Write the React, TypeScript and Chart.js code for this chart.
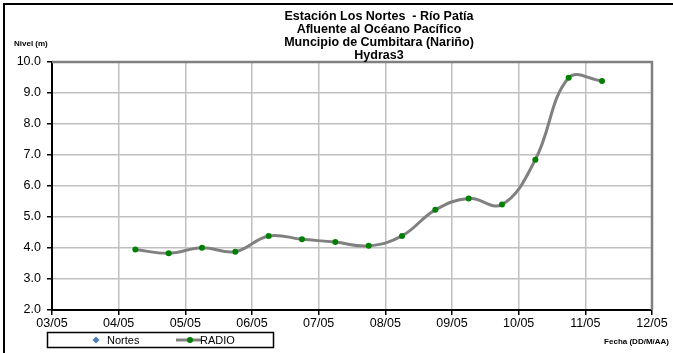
import { useEffect, useRef } from "react";
import { Chart, registerables } from "chart.js";

Chart.register(...registerables);

const titleLines = [
  "Estación Los Nortes  - Río Patía",
  "Afluente al Océano Pacífico",
  "Muncipio de Cumbitara (Nariño)",
  "Hydras3",
];
const yAxisTitle = "Nivel (m)";
const xAxisTitle = "Fecha (DD/M/AA)";
const seriesNames = ["Nortes", "RADIO"];
const xTickLabels = ["03/05", "04/05", "05/05", "06/05", "07/05", "08/05", "09/05", "10/05", "11/05", "12/05"];
const pointTimes = [
  "04/05 06:00", "04/05 18:00", "05/05 06:00", "05/05 18:00", "06/05 06:00",
  "06/05 18:00", "07/05 06:00", "07/05 18:00", "08/05 06:00", "08/05 18:00",
  "09/05 06:00", "09/05 18:00", "10/05 06:00", "10/05 18:00", "11/05 06:00",
];
const radioValues = [3.95, 3.83, 4.01, 3.88, 4.39, 4.28, 4.19, 4.07, 4.39, 5.23, 5.6, 5.4, 6.85, 9.49, 9.39];
const yMin = 2;
const yMax = 10;
const yStep = 1;

const FONT = "'Liberation Sans', Arial, sans-serif";

function toDays(s: string): number {
  const [d, t] = s.split(" ");
  const [dd] = d.split("/").map(Number);
  const [h, mi] = t.split(":").map(Number);
  return dd - 3 + (h + mi / 60) / 24;
}

const decorPlugin = {
  id: "decor",
  beforeDatasetsDraw(chart: any) {
    const { ctx, chartArea } = chart;
    ctx.save();
    ctx.strokeStyle = "#808080";
    ctx.lineWidth = 2.5;
    ctx.beginPath();
    ctx.moveTo(chartArea.left, chartArea.top);
    ctx.lineTo(chartArea.right, chartArea.top);
    ctx.lineTo(chartArea.right, chartArea.bottom);
    ctx.stroke();
    ctx.restore();
  },
  afterDraw(chart: any) {
    const { ctx } = chart;
    ctx.save();
    // outer frame (left and top)
    ctx.fillStyle = "#000";
    ctx.fillRect(3, 3, 670, 2);
    ctx.fillRect(3, 3, 2, 350);

    // title
    ctx.fillStyle = "#000";
    ctx.font = `bold 12.5px ${FONT}`;
    ctx.textAlign = "center";
    ctx.textBaseline = "middle";
    titleLines.forEach((line, i) => {
      ctx.fillText(line, 379, 17 + i * 13);
    });

    // axis titles
    ctx.font = `bold 8px ${FONT}`;
    ctx.textAlign = "left";
    ctx.fillText(yAxisTitle, 14, 44);
    ctx.textAlign = "right";
    ctx.fillText(xAxisTitle, 669, 342);

    // legend
    ctx.lineWidth = 1.5;
    ctx.strokeStyle = "#000";
    ctx.strokeRect(47.5, 332.5, 226, 15);
    ctx.fillStyle = "#4a7ebb";
    ctx.beginPath();
    ctx.moveTo(96, 336.5);
    ctx.lineTo(99.5, 340);
    ctx.lineTo(96, 343.5);
    ctx.lineTo(92.5, 340);
    ctx.closePath();
    ctx.fill();
    ctx.fillStyle = "#000";
    ctx.font = `11px ${FONT}`;
    ctx.textAlign = "left";
    ctx.textBaseline = "middle";
    ctx.fillText(seriesNames[0], 107, 340.5);
    ctx.strokeStyle = "#808080";
    ctx.lineWidth = 3;
    ctx.beginPath();
    ctx.moveTo(176, 340);
    ctx.lineTo(201, 340);
    ctx.stroke();
    ctx.fillStyle = "#008000";
    ctx.beginPath();
    ctx.arc(190, 340, 3, 0, Math.PI * 2);
    ctx.fill();
    ctx.fillStyle = "#000";
    ctx.fillText(seriesNames[1], 200, 340.5);
    ctx.restore();
  },
};

export default function App() {
  const ref = useRef<HTMLCanvasElement | null>(null);

  useEffect(() => {
    if (!ref.current) return;
    const data = pointTimes.map((t, i) => ({ x: toDays(t), y: radioValues[i] }));
    const chart = new Chart(ref.current, {
      type: "line",
      data: {
        datasets: [
          {
            label: seriesNames[1],
            data,
            borderColor: "#808080",
            borderWidth: 3,
            tension: 0.4,
            pointRadius: 3,
            pointBackgroundColor: "#008000",
            pointBorderColor: "#008000",
            pointBorderWidth: 0,
            fill: false,
          },
        ],
      },
      options: {
        animation: false,
        responsive: false,
        devicePixelRatio: 1,
        layout: { padding: { top: 62, right: 21, bottom: 0, left: 0 } },
        plugins: {
          legend: { display: false },
          title: { display: false },
          tooltip: { enabled: false },
        },
        scales: {
          x: {
            type: "linear",
            min: 0,
            max: xTickLabels.length - 1,
            afterFit(scale: any) {
              scale.height = 43;
            },
            ticks: {
              stepSize: 1,
              autoSkip: false,
              maxRotation: 0,
              padding: 1,
              color: "#000",
              font: { family: FONT, size: 12.5 },
              callback: (v: any) => xTickLabels[Math.round(Number(v))] ?? "",
            },
            grid: {
              color: "#c0c0c0",
              lineWidth: 1.5,
              tickLength: 5,
              tickColor: "#000",
              tickWidth: 1.5,
            },
            border: { display: true, color: "#000", width: 2 },
          },
          y: {
            min: yMin,
            max: yMax,
            afterFit(scale: any) {
              scale.width = 52;
            },
            ticks: {
              stepSize: yStep,
              padding: 6,
              color: "#000",
              font: { family: FONT, size: 12.5 },
              callback: (v: any) => Number(v).toFixed(1),
            },
            grid: {
              color: "#c0c0c0",
              lineWidth: 1.5,
              tickLength: 5,
              tickColor: "#000",
              tickWidth: 1.5,
            },
            border: { display: true, color: "#000", width: 2 },
          },
        },
      },
      plugins: [decorPlugin],
    });
    return () => chart.destroy();
  }, []);

  return (
    <div style={{ position: "absolute", left: 0, top: 0, width: 673, height: 353, background: "#fff" }}>
      <canvas ref={ref} width={673} height={353} style={{ display: "block" }} />
    </div>
  );
}
